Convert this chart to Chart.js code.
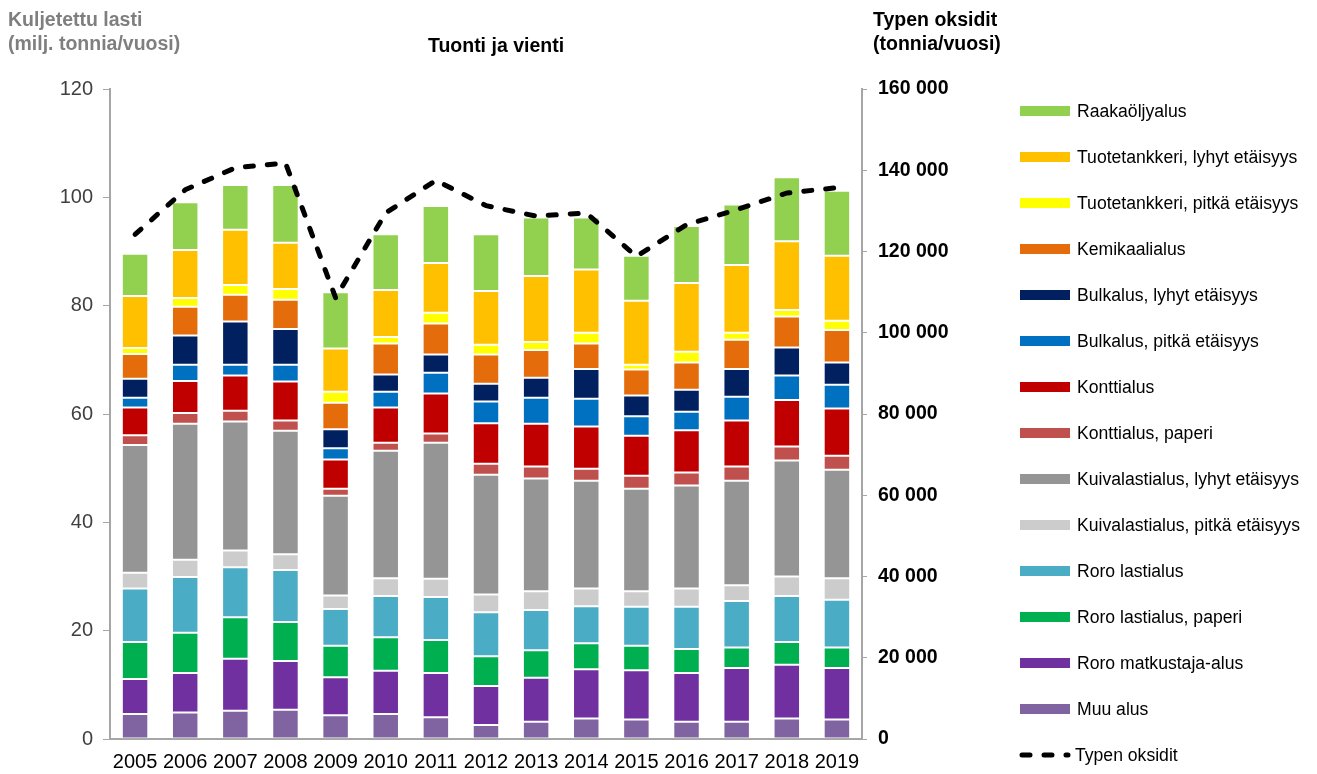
<!DOCTYPE html>
<html lang="fi">
<head>
<meta charset="utf-8">
<title>Tuonti ja vienti</title>
<script src="https://cdn.jsdelivr.net/npm/chart.js@4.4.1/dist/chart.umd.min.js"></script>
<style>
  html, body { margin: 0; padding: 0; background: #ffffff; }
  #wrap { position: relative; width: 1317px; height: 774px; }
</style>
</head>
<body>
<div id="wrap"><canvas id="c" width="1317" height="774"></canvas></div>
<script>
// Vuodet
const years = ['2005','2006','2007','2008','2009','2010','2011','2012','2013','2014','2015','2016','2017','2018','2019'];

// Kuljetettu lasti aluslajeittain (milj. tonnia/vuosi), pinottu alhaalta ylös
const muuAlus            = [4.6, 4.9, 5.2, 5.4, 4.4, 4.6, 4.0, 2.6, 3.2, 3.8, 3.6, 3.2, 3.2, 3.8, 3.6];
const roroMatkustaja     = [6.5, 7.3, 9.6, 9.0, 7.0, 8.0, 8.2, 7.2, 8.1, 9.1, 9.1, 9.0, 9.9, 9.9, 9.5];
const roroPaperi         = [6.8, 7.4, 7.7, 7.2, 5.8, 6.2, 6.1, 5.5, 5.1, 4.8, 4.5, 4.4, 3.8, 4.2, 3.8];
const roroLasti          = [9.9, 10.3, 9.2, 9.6, 6.8, 7.6, 7.9, 8.1, 7.4, 6.8, 7.2, 7.8, 8.6, 8.5, 8.8];
const kuivaPitka         = [2.9, 3.2, 3.1, 2.9, 2.5, 3.3, 3.4, 3.3, 3.5, 3.3, 2.9, 3.4, 2.9, 3.6, 4.0];
const kuivaLyhyt         = [23.6, 25.1, 23.8, 22.8, 18.4, 23.5, 25.1, 22.1, 20.8, 19.9, 18.9, 19.0, 19.3, 21.4, 20.0];
const konttiPaperi       = [1.8, 2.0, 2.0, 1.9, 1.3, 1.5, 1.7, 2.0, 2.2, 2.2, 2.4, 2.4, 2.6, 2.6, 2.6];
const kontti             = [5.1, 5.9, 6.5, 7.2, 5.4, 6.5, 7.4, 7.5, 7.9, 7.8, 7.4, 7.8, 8.5, 8.6, 8.7];
const bulkPitka          = [1.8, 3.0, 2.0, 3.1, 2.1, 2.9, 3.8, 4.0, 4.8, 5.1, 3.6, 3.4, 4.4, 4.5, 4.4];
const bulkLyhyt          = [3.5, 5.4, 8.0, 6.6, 3.5, 3.2, 3.4, 3.3, 3.7, 5.5, 3.8, 4.1, 5.1, 5.2, 4.1];
const kemikaali          = [4.6, 5.3, 4.9, 5.4, 4.9, 5.7, 5.7, 5.4, 5.1, 4.7, 4.8, 5.0, 5.4, 5.7, 6.0];
const tuotePitka         = [1.1, 1.6, 1.8, 2.0, 2.0, 1.2, 2.0, 1.8, 1.5, 2.0, 0.9, 2.0, 1.3, 1.2, 1.7];
const tuoteLyhyt         = [9.6, 8.9, 10.2, 8.5, 8.0, 8.7, 9.2, 9.9, 12.2, 11.7, 11.8, 12.7, 12.5, 12.7, 12.0];
const raakaoljy          = [7.8, 8.8, 8.3, 10.7, 10.4, 10.3, 10.5, 10.5, 10.8, 9.6, 8.3, 10.5, 11.2, 11.8, 12.0];

// Typen oksidien päästöt (tonnia/vuosi)
const typenOksidit = [124200, 135200, 140600, 141800, 108600, 129500, 137500, 131300, 128700, 129500, 118800, 126600, 130300, 134400, 135700];

// Akselien jaot
const leftTicks  = [0, 20, 40, 60, 80, 100, 120];
const rightTicks = [0, 20000, 40000, 60000, 80000, 100000, 120000, 140000, 160000];

const FONT = "'Liberation Sans', Arial, sans-serif";

const barSeries = [
  { label: 'Muu alus',                         data: muuAlus,        color: '#8064A2' },
  { label: 'Roro matkustaja-alus',             data: roroMatkustaja, color: '#7030A0' },
  { label: 'Roro lastialus, paperi',           data: roroPaperi,     color: '#00B050' },
  { label: 'Roro lastialus',                   data: roroLasti,      color: '#4BACC6' },
  { label: 'Kuivalastialus, pitkä etäisyys',   data: kuivaPitka,     color: '#CCCCCC' },
  { label: 'Kuivalastialus, lyhyt etäisyys',   data: kuivaLyhyt,     color: '#959595' },
  { label: 'Konttialus, paperi',               data: konttiPaperi,   color: '#C0504D' },
  { label: 'Konttialus',                       data: kontti,         color: '#C00000' },
  { label: 'Bulkalus, pitkä etäisyys',         data: bulkPitka,      color: '#0070C0' },
  { label: 'Bulkalus, lyhyt etäisyys',         data: bulkLyhyt,      color: '#002060' },
  { label: 'Kemikaalialus',                    data: kemikaali,      color: '#E46C0A' },
  { label: 'Tuotetankkeri, pitkä etäisyys',    data: tuotePitka,     color: '#FFFF00' },
  { label: 'Tuotetankkeri, lyhyt etäisyys',    data: tuoteLyhyt,     color: '#FFC000' },
  { label: 'Raakaöljyalus',                    data: raakaoljy,      color: '#92D050' }
];

const datasets = barSeries.map(s => ({
  type: 'bar',
  label: s.label,
  data: s.data,
  backgroundColor: s.color,
  borderColor: 'rgba(255,255,255,0.35)',
  borderWidth: 1,
  borderSkipped: false,
  stack: 'lasti',
  yAxisID: 'y',
  order: 1,
  categoryPercentage: 0.8,
  barPercentage: 0.66
}));

datasets.push({
  type: 'line',
  label: 'Typen oksidit',
  data: typenOksidit,
  yAxisID: 'y1',
  borderColor: '#000000',
  backgroundColor: '#000000',
  borderWidth: 5,
  borderDash: [8, 14],
  borderCapStyle: 'round',
  borderJoinStyle: 'round',
  pointRadius: 0,
  tension: 0,
  fill: false,
  order: 0
});

// Otsikot ja selite piirretään kankaalle
const textPlugin = {
  id: 'otsikotJaSelite',
  afterDraw(chart) {
    const ctx = chart.ctx;
    ctx.save();
    ctx.textBaseline = 'alphabetic';
    ctx.textAlign = 'left';
    ctx.font = 'bold 19.5px ' + FONT;
    ctx.fillStyle = '#7F7F7F';
    ctx.fillText('Kuljetettu lasti', 8, 26);
    ctx.fillText('(milj. tonnia/vuosi)', 8, 50);
    ctx.fillStyle = '#000000';
    ctx.fillText('Typen oksidit', 873, 26);
    ctx.fillText('(tonnia/vuosi)', 873, 50);
    ctx.textAlign = 'center';
    ctx.fillText('Tuonti ja vienti', (chart.chartArea.left + chart.chartArea.right) / 2 + 10, 52);

    // Selite
    const x0 = 1020, boxW = 50, boxH = 10, textX = 1077;
    let y = 111;
    const step = 46;
    ctx.font = '17.6px ' + FONT;
    ctx.textAlign = 'left';
    ctx.textBaseline = 'middle';
    const ds = chart.data.datasets;
    const bars = ds.filter(d => d.type === 'bar').slice().reverse();
    bars.forEach(d => {
      ctx.fillStyle = d.backgroundColor;
      ctx.fillRect(x0, y - boxH / 2, boxW, boxH);
      ctx.fillStyle = '#000000';
      ctx.fillText(d.label, textX, y + 1);
      y += step;
    });
    const line = ds.find(d => d.type === 'line');
    ctx.strokeStyle = line.borderColor;
    ctx.lineWidth = line.borderWidth;
    ctx.lineCap = 'round';
    ctx.setLineDash(line.borderDash);
    ctx.beginPath();
    ctx.moveTo(x0 + 2, y);
    ctx.lineTo(x0 + boxW - 2, y);
    ctx.stroke();
    ctx.setLineDash([]);
    ctx.fillStyle = '#000000';
    ctx.fillText(line.label, textX - 2, y + 1);
    ctx.restore();
  }
};

new Chart(document.getElementById('c'), {
  data: { labels: years, datasets },
  plugins: [textPlugin],
  options: {
    responsive: false,
    animation: false,
    layout: { padding: { left: 0, top: 89, right: 355, bottom: 0 } },
    plugins: {
      legend: { display: false },
      title: { display: false },
      tooltip: { enabled: false }
    },
    scales: {
      x: {
        stacked: true,
        grid: { display: false, drawTicks: false },
        border: { display: true, color: '#A6A6A6', width: 2 },
        ticks: { color: '#000000', font: { family: FONT, size: 20 }, padding: 11, maxRotation: 0, autoSkip: false },
        afterFit: s => { s.height = 35; }
      },
      y: {
        stacked: true,
        position: 'left',
        min: 0, max: 120,
        afterBuildTicks: s => { s.ticks = leftTicks.map(v => ({ value: v })); },
        grid: { drawOnChartArea: false, drawTicks: true, tickLength: 7, color: '#A6A6A6' },
        border: { display: true, color: '#A6A6A6', width: 2 },
        ticks: { color: '#404040', font: { family: FONT, size: 20 }, padding: 10 },
        afterFit: s => { s.width = 110; }
      },
      y1: {
        position: 'right',
        min: 0, max: 160000,
        afterBuildTicks: s => { s.ticks = rightTicks.map(v => ({ value: v })); },
        grid: { drawOnChartArea: false, drawTicks: true, tickLength: 5, color: '#A6A6A6' },
        border: { display: true, color: '#A6A6A6', width: 2 },
        ticks: {
          color: '#000000',
          font: { family: FONT, size: 19.5, weight: 'bold' },
          padding: 11,
          callback: v => String(v).replace(/\B(?=(\d{3})+(?!\d))/g, ' ')
        },
        afterFit: s => { s.width = 100; }
      }
    }
  }
});
</script>
</body>
</html>
